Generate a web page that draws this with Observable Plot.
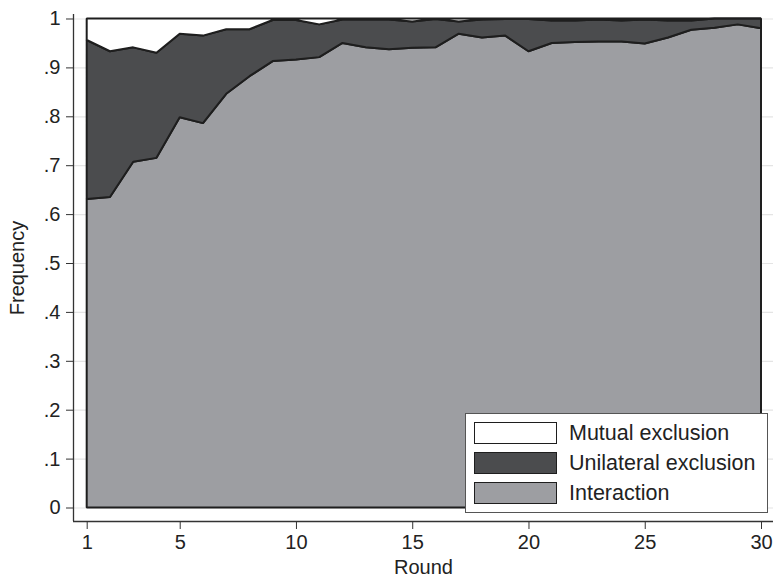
<!DOCTYPE html>
<html>
<head>
<meta charset="utf-8">
<script src="https://cdn.jsdelivr.net/npm/d3@7"></script>
<script src="https://cdn.jsdelivr.net/npm/@observablehq/plot@0.6"></script>
<style>
  html, body { margin: 0; padding: 0; background: #fff; }
  #wrap { position: relative; width: 773px; height: 577px; font-family: "Liberation Sans", Arial, sans-serif; color: #222; }
  #legend { position: absolute; left: 465px; top: 413px; width: 301px; height: 98px; background: #fff; border: 1px solid #555; }
  .item { position: absolute; left: 8px; height: 22px; display: flex; align-items: center; }
  .sw { width: 81px; height: 20px; border: 1.5px solid #1e1e1e; box-sizing: content-box; }
  .lab { position: absolute; left: 95px; font-size: 21.5px; line-height: 22px; white-space: nowrap; color: #222; }
</style>
</head>
<body>
<div id="wrap"></div>
<script>
// Rounds of play
const rounds = d3.range(1, 31);

// Share of pairs in each state per round
const interaction = [0.631, 0.635, 0.707, 0.715, 0.798, 0.786, 0.846, 0.882, 0.913, 0.916,
                     0.921, 0.950, 0.941, 0.937, 0.940, 0.941, 0.969, 0.961, 0.965, 0.933,
                     0.950, 0.952, 0.953, 0.953, 0.949, 0.961, 0.977, 0.981, 0.988, 0.980];
const unilateral  = [0.325, 0.298, 0.234, 0.215, 0.171, 0.179, 0.132, 0.096, 0.084, 0.081,
                     0.067, 0.048, 0.057, 0.061, 0.054, 0.058, 0.025, 0.037, 0.034, 0.066,
                     0.046, 0.044, 0.045, 0.043, 0.049, 0.035, 0.019, 0.019, 0.012, 0.020];
const mutual      = [0.044, 0.067, 0.059, 0.070, 0.031, 0.035, 0.022, 0.022, 0.003, 0.003,
                     0.012, 0.002, 0.002, 0.002, 0.006, 0.001, 0.006, 0.002, 0.001, 0.001,
                     0.004, 0.004, 0.002, 0.004, 0.002, 0.004, 0.004, 0.000, 0.000, 0.000];

// Series, from bottom of the stack to top
const seriesNames  = ["Interaction", "Unilateral exclusion", "Mutual exclusion"];
const seriesColors = ["#9d9ea2", "#4b4c4e", "#ffffff"];
const seriesValues = [interaction, unilateral, mutual];

// Legend rows, top to bottom
const legendOrder = ["Mutual exclusion", "Unilateral exclusion", "Interaction"];

// Axis ticks
const xTicks = [1, 5, 10, 15, 20, 25, 30];
const yTicks = [0, 0.1, 0.2, 0.3, 0.4, 0.5, 0.6, 0.7, 0.8, 0.9, 1];
const yTickLabels = ["0", ".1", ".2", ".3", ".4", ".5", ".6", ".7", ".8", ".9", "1"];

const rows = seriesNames.flatMap((name, i) =>
  rounds.map((r, j) => ({round: r, value: seriesValues[i][j], series: name})));

// Outer axes sit slightly away from the data region
const xDomain = [0.411, 30.516];
const yDomain = [-0.0276, 1.0092];

const chart = Plot.plot({
  width: 773,
  height: 577,
  marginLeft: 73,
  marginRight: 0,
  marginTop: 14,
  marginBottom: 56,
  style: {fontFamily: "'Liberation Sans', Arial, sans-serif", color: "#222", background: "#fff"},
  x: {domain: xDomain},
  y: {domain: yDomain},
  color: {domain: seriesNames, range: seriesColors},
  marks: [
    Plot.gridY(yTicks, {stroke: "#e4e4e4", strokeOpacity: 1, strokeWidth: 1.2}),
    Plot.areaY(rows, {
      x: "round", y: "value", z: "series", fill: "series",
      order: seriesNames,
      stroke: "#1e1e1e", strokeWidth: 2, strokeLinejoin: "miter"
    }),
    Plot.ruleX([xDomain[0]], {stroke: "#333", strokeWidth: 1.3}),
    Plot.ruleY([yDomain[0]], {stroke: "#333", strokeWidth: 1.3}),
    Plot.axisY(yTicks, {
      tickFormat: (d, i) => yTickLabels[i],
      tickSize: 7, tickPadding: 6, fontSize: 20, stroke: "#333",
      label: "Frequency", labelAnchor: "center", labelArrow: "none", labelOffset: 64
    }),
    Plot.axisX(xTicks, {
      tickSize: 8, tickPadding: 5, fontSize: 20, stroke: "#333",
      label: "Round", labelAnchor: "center", labelArrow: "none", labelOffset: 52
    })
  ]
});

const wrap = document.getElementById("wrap");
wrap.appendChild(chart);

// Legend drawn over the lower right of the chart
const legend = document.createElement("div");
legend.id = "legend";
legendOrder.forEach((name, i) => {
  const item = document.createElement("div");
  item.className = "item";
  item.style.top = (8 + i * 30) + "px";
  const sw = document.createElement("div");
  sw.className = "sw";
  sw.style.background = seriesColors[seriesNames.indexOf(name)];
  const lab = document.createElement("span");
  lab.className = "lab";
  lab.textContent = name;
  item.appendChild(sw);
  item.appendChild(lab);
  legend.appendChild(item);
});
wrap.appendChild(legend);
</script>
</body>
</html>
